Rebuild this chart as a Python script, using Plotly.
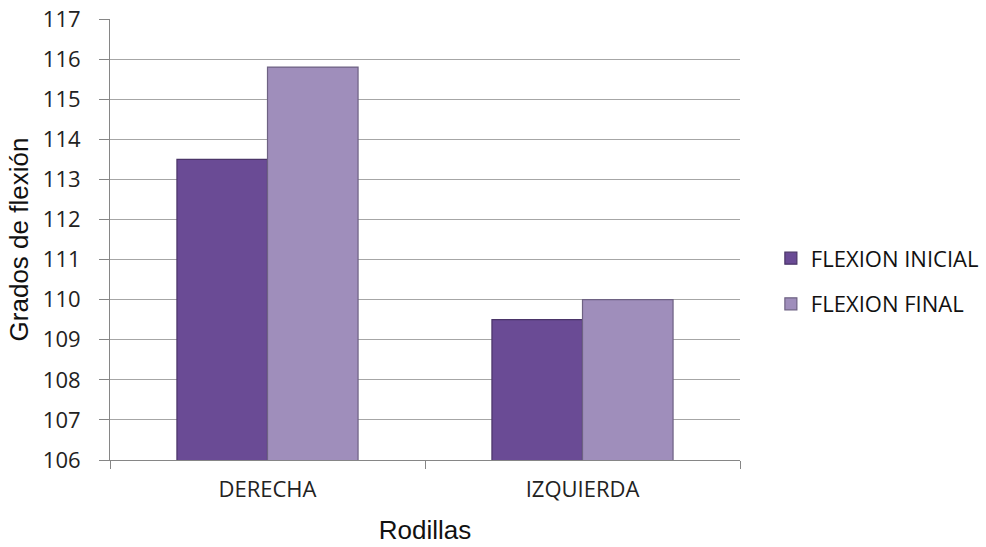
import plotly.graph_objects as go

# Knee flexion angles (degrees) before and after
rodillas = ["DERECHA", "IZQUIERDA"]
flexion_inicial = [113.5, 109.5]
flexion_final = [115.8, 110.0]
y_ticks = list(range(106, 118))

fig = go.Figure()
fig.add_trace(go.Bar(
    name="FLEXION INICIAL", x=rodillas, y=flexion_inicial, legendgroup="a",
    marker=dict(color="#6a4b95", line=dict(color="#4a3468", width=1.2)),
))
fig.add_trace(go.Bar(
    name="FLEXION FINAL", x=rodillas, y=flexion_final, legendgroup="b",
    marker=dict(color="#9f8ebb", line=dict(color="#6e6283", width=1.2)),
))

font_ticks = "Open Sans, Liberation Sans, Arial, sans-serif"
font_titles = "Liberation Sans, Arial, sans-serif"

fig.update_layout(
    width=986, height=547,
    margin=dict(l=110, r=246, t=19, b=87, autoexpand=False),
    paper_bgcolor="white", plot_bgcolor="white",
    barmode="group", bargap=0.425, bargroupgap=0,
    font=dict(family=font_ticks, color="#222222"),
    legend=dict(
        x=1.049, y=0.405, xanchor="left", yanchor="middle",
        font=dict(size=22, family=font_ticks, color="#111111"),
        tracegroupgap=14, itemwidth=30,
    ),
    showlegend=True,
)
fig.update_yaxes(
    range=[106, 117], tickvals=y_ticks, automargin=False,
    showgrid=True, gridcolor="#a6a6a6", gridwidth=1,
    showline=True, linecolor="#868686", linewidth=1,
    ticks="outside", ticklen=10, tickcolor="#868686", ticklabelstandoff=14,
    tickfont=dict(size=22, family=font_ticks, color="#222222"),
    zeroline=False,
    title=dict(text="Grados de flexión", font=dict(size=26, family=font_titles, color="#111111"), standoff=6),
)
fig.update_xaxes(
    showline=True, linecolor="#868686", linewidth=1, automargin=False,
    ticks="outside", ticklen=8, tickcolor="#868686", tickson="boundaries",
    ticklabelstandoff=10,
    tickfont=dict(size=22, family=font_ticks, color="#222222"),
    title=dict(text="Rodillas", font=dict(size=26, family=font_titles, color="#111111"), standoff=18),
)

fig.write_html("out.html")
